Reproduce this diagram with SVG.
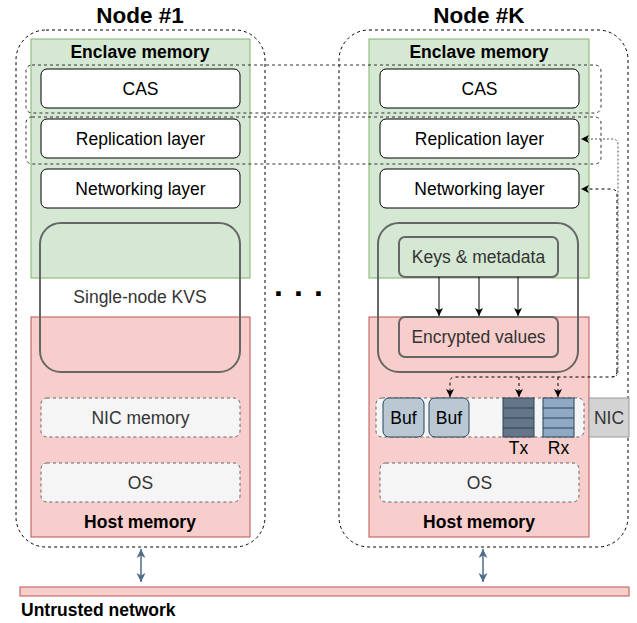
<svg xmlns="http://www.w3.org/2000/svg" width="637" height="623" viewBox="0 0 637 623">
<defs>
<style>
text{font-family:"Liberation Sans",Arial,sans-serif;font-size:17.5px;text-anchor:middle;}
.b{font-weight:bold;fill:#000;}
.g{fill:#333;}
.outer{fill:none;stroke:#000;stroke-width:1;stroke-dasharray:3 3;}
.encl{fill:#d5e8d4;stroke:#82b366;stroke-width:1;}
.host{fill:#f8cecc;stroke:#b85450;stroke-width:1;}
.box{fill:#fff;stroke:#000;stroke-width:1;}
.kvs{fill:none;stroke:#666;stroke-width:2;}
.dbox{fill:#f5f5f5;stroke:#666;stroke-width:1;stroke-dasharray:3 3;}
.grp{fill:none;stroke:#333;stroke-width:1;stroke-dasharray:3 3;}
.buf{fill:#bac8d3;stroke:#23445d;stroke-width:1;}
.conn{fill:none;stroke:#000;stroke-width:1;}
.dconn{fill:none;stroke:#000;stroke-width:1;stroke-dasharray:3 3;}
.lconn{fill:none;stroke:#555;stroke-width:1;stroke-dasharray:2 2;}
.bid{fill:none;stroke:#4f6d8a;stroke-width:1.5;}
</style>
<marker id="ah" markerWidth="10" markerHeight="10" refX="9" refY="5" orient="auto" markerUnits="userSpaceOnUse">
<path d="M1,1 L9,5 L1,9 L3,5 Z" fill="#000"/>
</marker>
<marker id="bh" markerWidth="12" markerHeight="12" refX="10" refY="6" orient="auto-start-reverse" markerUnits="userSpaceOnUse">
<path d="M1,1.5 L10,6 L1,10.5 L3.5,6 Z" fill="#4f6d8a"/>
</marker>
</defs>

<g id="node1">
<text class="b" x="140" y="23" style="font-size:22.5px">Node #1</text>
<rect class="outer" x="16" y="30" width="249" height="517" rx="30"/>
<rect class="encl" x="31" y="39" width="219" height="239"/>
<text class="b" x="140" y="58">Enclave memory</text>
<rect class="host" x="31" y="317" width="219" height="220"/>
<text class="b" x="140" y="528">Host memory</text>
</g>
<g id="cas1"><rect class="box" x="41" y="69" width="199" height="39" rx="6"/><text x="140.5" y="95">CAS</text></g>
<g id="repl1"><rect class="box" x="41" y="119" width="199" height="39" rx="6"/><text x="140.5" y="145">Replication layer</text></g>
<g id="net1"><rect class="box" x="41" y="169" width="199" height="39" rx="6"/><text x="140.5" y="195">Networking layer</text></g>
<g id="kvs1"><rect class="kvs" x="40" y="223" width="200" height="149" rx="21"/><text class="g" x="140" y="303">Single-node KVS</text></g>
<g id="nicmem1"><rect class="dbox" x="41" y="398" width="199" height="39" rx="6"/><text class="g" x="140.5" y="424">NIC memory</text></g>
<g id="os1"><rect class="dbox" x="41" y="463" width="199" height="39" rx="6"/><text class="g" x="140.5" y="489">OS</text></g>

<g id="dots"><text class="b" x="274" y="296" style="font-size:32px;text-anchor:start;letter-spacing:1.1px">. . .</text></g>

<g id="nodeK">
<text class="b" x="479" y="23" style="font-size:22.5px">Node #K</text>
<rect class="outer" x="339" y="30" width="289" height="517" rx="30"/>
<rect class="encl" x="369" y="39" width="220" height="239"/>
<text class="b" x="479" y="58">Enclave memory</text>
<rect class="host" x="369" y="317" width="220" height="220"/>
<text class="b" x="479" y="528">Host memory</text>
</g>
<g id="casK"><rect class="box" x="380" y="69" width="199" height="39" rx="6"/><text x="479.5" y="95">CAS</text></g>
<g id="replK"><rect class="box" x="380" y="119" width="199" height="39" rx="6"/><text x="479.5" y="145">Replication layer</text></g>
<g id="netK"><rect class="box" x="380" y="169" width="199" height="39" rx="6"/><text x="479.5" y="195">Networking layer</text></g>
<g id="kvsK"><rect class="kvs" x="378" y="223" width="200" height="149" rx="21"/></g>
<g id="keysK"><rect x="399" y="237" width="159" height="40" rx="6" fill="#d5e8d4" stroke="#666" stroke-width="2"/><text class="g" x="478.5" y="263">Keys &amp; metadata</text></g>
<g id="encK"><rect x="399" y="317" width="159" height="40" rx="6" fill="#f8cecc" stroke="#666" stroke-width="2"/><text class="g" x="478.5" y="343">Encrypted values</text></g>
<g id="nicmemK"><rect class="dbox" x="376" y="398" width="208" height="39" rx="6"/></g>
<g id="buf1"><rect class="buf" x="383" y="398" width="41" height="39" rx="6"/><text x="403.5" y="424">Buf</text></g>
<g id="buf2"><rect class="buf" x="429" y="398" width="40" height="39" rx="6"/><text x="449" y="424">Buf</text></g>
<g id="tx">
<rect x="503" y="398" width="31" height="39" fill="#647687" stroke="#314354" stroke-width="1"/>
<path d="M503,408 H534 M503,418 H534 M503,428 H534" stroke="#314354" stroke-width="1"/>
<text x="518.5" y="454">Tx</text>
</g>
<g id="rx">
<rect x="543" y="398" width="31" height="39" fill="#8fa9c3" stroke="#23445d" stroke-width="1"/>
<path d="M543,408 H574 M543,418 H574 M543,428 H574" stroke="#23445d" stroke-width="1"/>
<text x="558.5" y="454">Rx</text>
</g>
<g id="nic"><rect x="589" y="398" width="40" height="39" fill="#d3d3d3" stroke="#999" stroke-width="1"/><text class="g" x="609" y="424">NIC</text></g>
<g id="osK"><rect class="dbox" x="380" y="463" width="199" height="39" rx="6"/><text class="g" x="479.5" y="489">OS</text></g>

<g id="casGroup"><rect class="grp" x="26" y="65" width="575" height="48" rx="6"/></g>
<g id="replGroup"><rect class="grp" x="26" y="117" width="575" height="47" rx="6"/></g>

<g id="network"><rect class="host" x="20" y="587" width="609" height="9"/><text class="b" x="21" y="616" style="text-anchor:start">Untrusted network</text></g>

<g id="connectors">
<path class="conn" d="M439,277 V316" marker-end="url(#ah)"/>
<path class="conn" d="M479,277 V316" marker-end="url(#ah)"/>
<path class="conn" d="M518,277 V316" marker-end="url(#ah)"/>
<path class="lconn" d="M612,377 Q618,377 618,371 V145 Q618,139 612,139 H581" marker-end="url(#ah)"/>
<path class="dconn" d="M617,371 V195 Q617,189 611,189 H581" marker-end="url(#ah)"/>
<path class="dconn" d="M617,371 Q617,377 611,377 H455 Q450,377 450,382 V397" marker-end="url(#ah)"/>
<path class="dconn" d="M519,377 V397" marker-end="url(#ah)"/>
<path class="dconn" d="M558,377 V397" marker-end="url(#ah)"/>
<path class="bid" d="M141,549 V582" marker-start="url(#bh)" marker-end="url(#bh)"/>
<path class="bid" d="M483,549 V582" marker-start="url(#bh)" marker-end="url(#bh)"/>
</g>
</svg>
